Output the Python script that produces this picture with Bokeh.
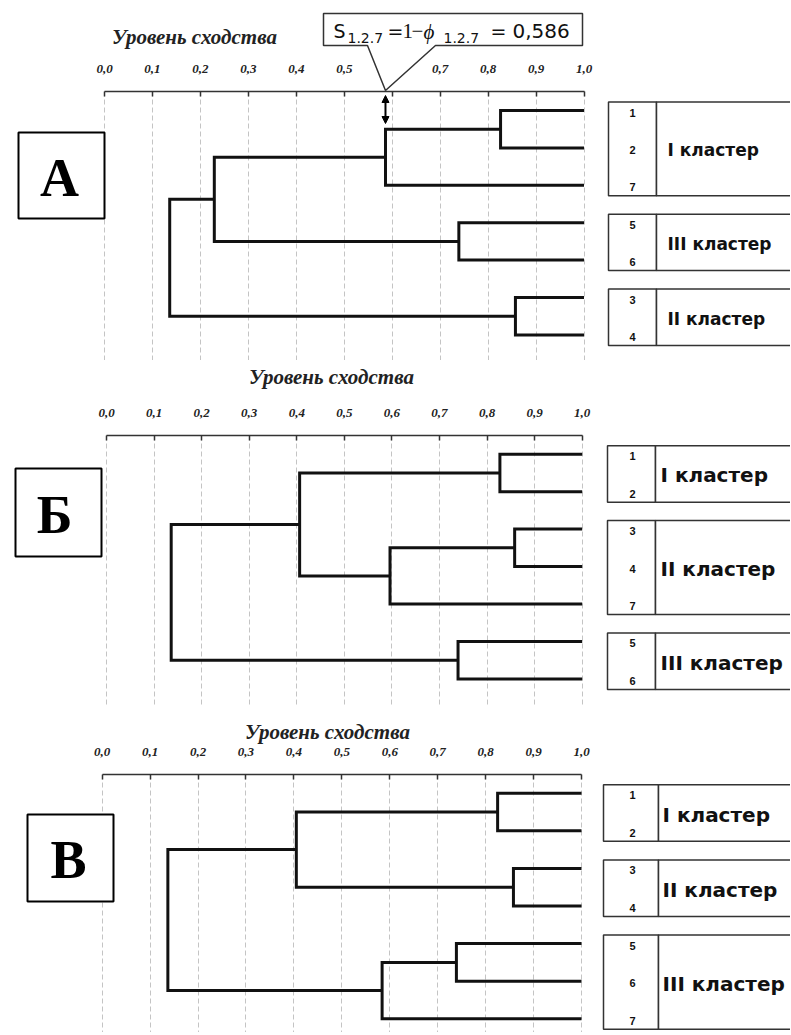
from bokeh.plotting import figure
from bokeh.layouts import column
from bokeh.models import Range1d, FixedTicker, Arrow, NormalHead
from bokeh.core.properties import value
from bokeh.embed import file_html
from bokeh.resources import INLINE

# ---------------- data ----------------
TICKS = [0.0, 0.1, 0.2, 0.3, 0.4, 0.5, 0.6, 0.7, 0.8, 0.9, 1.0]
TICK_LABELS = ["0,0", "0,1", "0,2", "0,3", "0,4", "0,5", "0,6", "0,7", "0,8", "0,9", "1,0"]
AXIS_TITLE = "Уровень сходства"

# Panel A: leaf order (top to bottom), merges (left node, right node, similarity)
A_LEAVES = ["1", "2", "7", "5", "6", "3", "4"]
A_LEFT = [0, 7, 3, 8, 5, 10]
A_RIGHT = [1, 2, 4, 9, 6, 11]
A_SIM = [0.826, 0.586, 0.739, 0.229, 0.857, 0.136]
A_CLUSTERS = ["I кластер", "III кластер", "II кластер"]
A_CLUSTER_ROWS = [[0, 1, 2], [3, 4], [5, 6]]
A_NOTE = "0,586"

# Panel Б
B_LEAVES = ["1", "2", "3", "4", "7", "5", "6"]
B_LEFT = [0, 2, 8, 7, 5, 10]
B_RIGHT = [1, 3, 4, 9, 6, 11]
B_SIM = [0.827, 0.858, 0.596, 0.406, 0.739, 0.136]
B_CLUSTERS = ["I кластер", "II кластер", "III кластер"]
B_CLUSTER_ROWS = [[0, 1], [2, 3, 4], [5, 6]]

# Panel В
C_LEAVES = ["1", "2", "3", "4", "5", "6", "7"]
C_LEFT = [0, 2, 7, 4, 10, 9]
C_RIGHT = [1, 3, 8, 5, 6, 11]
C_SIM = [0.825, 0.858, 0.405, 0.739, 0.584, 0.137]
C_CLUSTERS = ["I кластер", "II кластер", "III кластер"]
C_CLUSTER_ROWS = [[0, 1], [2, 3], [4, 5, 6]]

PANEL_LETTERS = ["А", "Б", "В"]

# ---------------- layout (pixel geometry of the page) ----------------
W = 790
CFG = [
    dict(top=0, height=360, axis_y=91, x0=104, x1=583.5, row0=110, step=37.4,
         title=(194, 36), box=(18, 132, 104, 218), letter=(59, 177),
         leg_left=608, leg_div=656, lab_x=667, lab_fs="17px"),
    dict(top=360, height=345, axis_y=435, x0=106, x1=581.7, row0=453.7, step=37.45,
         title=(331, 376), box=(15, 468, 101, 556), letter=(54, 514),
         leg_left=607, leg_div=655, lab_x=660, lab_fs="20px"),
    dict(top=705, height=327, axis_y=774, x0=101.7, x1=581, row0=792.7, step=37.6,
         title=(327, 731), box=(27, 814, 113, 901), letter=(68, 859),
         leg_left=603, leg_div=658, lab_x=662, lab_fs="20px"),
]

LINE_COLOR = "#111111"
SERIF = "Liberation Serif"
SANS = "Liberation Sans"
WIDE_SANS = "DejaVu Sans"


def dendro_paths(n, left, right, sim):
    nx = [1.0] * n
    ny = [float(i) for i in range(n)]
    xs, ys = [], []
    for l, r, s in zip(left, right, sim):
        xs.append([nx[l], s, s, nx[r]])
        ys.append([ny[l], ny[l], ny[r], ny[r]])
        nx.append(s)
        ny.append((ny[l] + ny[r]) / 2)
    return xs, ys


def make_panel(cfg, leaves, left, right, sim, clusters, cluster_rows, letter):
    x0, x1 = cfg["x0"], cfg["x1"]
    sx = lambda px: (px - x0) / (x1 - x0)
    sy = lambda py: (py - cfg["row0"]) / cfg["step"]
    top, h = cfg["top"], cfg["height"]
    p = figure(width=W, height=h,
               x_range=Range1d(sx(0), sx(W)),
               y_range=Range1d(sy(top + h), sy(cfg["axis_y"])),
               x_axis_location="above", y_axis_location=None,
               output_backend="svg", toolbar_location=None,
               min_border_top=cfg["axis_y"] - top, min_border_bottom=0,
               min_border_left=0, min_border_right=0)
    p.outline_line_color = None
    p.background_fill_color = "white"
    p.border_fill_color = "white"

    ax = p.xaxis[0]
    ax.bounds = (0, 1)
    ax.ticker = FixedTicker(ticks=TICKS)
    ax.major_label_overrides = {t: lab for t, lab in zip(TICKS, TICK_LABELS)}
    ax.major_label_text_font = SERIF
    ax.major_label_text_font_style = "bold italic"
    ax.major_label_text_font_size = "13px"
    ax.major_label_text_color = "#222222"
    ax.major_label_standoff = 19
    ax.major_tick_in = 5
    ax.major_tick_out = 0
    ax.minor_tick_line_color = None
    ax.axis_line_color = "#333333"
    ax.axis_line_width = 1.5
    ax.major_tick_line_color = "#333333"
    ax.major_tick_line_width = 1.5

    p.xgrid.ticker = FixedTicker(ticks=TICKS)
    p.xgrid.grid_line_color = "#c4c4c4"
    p.xgrid.grid_line_dash = "5 3"
    p.xgrid.grid_line_width = 1
    p.ygrid.visible = False

    # axis title (drawn above the axis)
    p.text(x=[sx(cfg["title"][0])], y=[sy(cfg["title"][1])], text=[AXIS_TITLE],
           text_font=value(SERIF), text_font_style="bold italic", text_font_size="21px",
           text_align="center", text_baseline="middle", text_color="#222222", level="overlay")

    # dendrogram
    xs, ys = dendro_paths(len(leaves), left, right, sim)
    p.multi_line(xs, ys, line_width=3, line_color=LINE_COLOR, line_join="miter")

    # panel letter box
    bl, bt, br, bb = cfg["box"]
    p.quad(left=[sx(bl)], right=[sx(br)], top=[sy(bt)], bottom=[sy(bb)],
           fill_color="white", line_color="black", line_width=2)
    p.text(x=[sx(cfg["letter"][0])], y=[sy(cfg["letter"][1])], text=[letter],
           text_font=value(SERIF), text_font_style="bold", text_font_size="54px",
           text_align="center", text_baseline="middle", text_color="black")

    # cluster legend boxes
    step = cfg["step"]
    for name, rows in zip(clusters, cluster_rows):
        t = rows[0] - 8.5 / step
        b = rows[-1] + 10.5 / step
        p.quad(left=[sx(cfg["leg_left"]), sx(cfg["leg_div"])],
               right=[sx(cfg["leg_div"]), sx(W + 20)],
               top=[t, t], bottom=[b, b],
               fill_color="white", line_color="#333333", line_width=1.5)
        p.text(x=[sx(632)] * len(rows), y=[r + 2 / step for r in rows],
               text=[leaves[r] for r in rows],
               text_font=value(SANS), text_font_style="bold", text_font_size="11px",
               text_align="center", text_baseline="middle", text_color="#111111")
        p.text(x=[sx(cfg["lab_x"])], y=[sum(rows) / len(rows) + 2.5 / step], text=[name],
               text_font=value(WIDE_SANS), text_font_style="bold", text_font_size=cfg["lab_fs"],
               text_align="left", text_baseline="middle", text_color="#111111")
    return p, sx, sy


pa, sxa, sya = make_panel(CFG[0], A_LEAVES, A_LEFT, A_RIGHT, A_SIM, A_CLUSTERS, A_CLUSTER_ROWS, PANEL_LETTERS[0])
pb, _, _ = make_panel(CFG[1], B_LEAVES, B_LEFT, B_RIGHT, B_SIM, B_CLUSTERS, B_CLUSTER_ROWS, PANEL_LETTERS[1])
pc, _, _ = make_panel(CFG[2], C_LEAVES, C_LEFT, C_RIGHT, C_SIM, C_CLUSTERS, C_CLUSTER_ROWS, PANEL_LETTERS[2])

# ---- callout on panel A pointing at the 1-2-7 merge level ----
s127 = A_SIM[1]
tip_px = CFG[0]["x0"] + s127 * (CFG[0]["x1"] - CFG[0]["x0"])
poly_px = [(323, 13), (582, 13), (582, 45), (tip_px + 50, 45), (tip_px, 90), (tip_px - 18, 45), (323, 45)]
pa.patch([sxa(x) for x, _ in poly_px], [sya(y) for _, y in poly_px],
         fill_color="white", line_color="#333333", line_width=1.5, level="overlay")
pieces = [
    ("S", 333, 30, WIDE_SANS, "normal", "19px"),
    ("1.2.7", 347, 37, WIDE_SANS, "normal", "14px"),
    ("=", 387, 30, WIDE_SANS, "normal", "19px"),
    ("1", 402, 30, SERIF, "normal", "21px"),
    ("\u2212", 411, 30, SERIF, "normal", "21px"),
    ("\u03d5", 423, 31, SERIF, "italic", "21px"),
    ("1.2.7", 443, 37, WIDE_SANS, "normal", "14px"),
    ("=", 490, 30, WIDE_SANS, "normal", "19px"),
    (A_NOTE, 512, 30, WIDE_SANS, "normal", "20px"),
]
for txt, px, py, font, style, fs in pieces:
    pa.text(x=[sxa(px)], y=[sya(py)], text=[txt], text_align="left", text_baseline="middle",
            text_font=value(font), text_font_style=style, text_font_size=fs,
            text_color="#111111", level="overlay")

pa.add_layout(Arrow(start=NormalHead(size=7, fill_color="black", line_color="black"),
                    end=NormalHead(size=7, fill_color="black", line_color="black"),
                    x_start=s127, y_start=sya(123), x_end=s127, y_end=sya(95),
                    line_width=2, line_color="black"))

layout = column(pa, pb, pc, spacing=0)
open("out.html", "w").write(file_html(layout, INLINE))
